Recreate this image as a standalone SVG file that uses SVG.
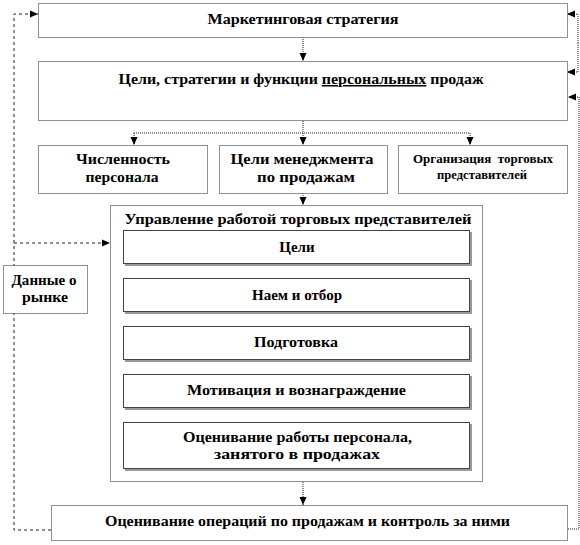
<svg xmlns="http://www.w3.org/2000/svg" width="580" height="545" viewBox="0 0 580 545">
<defs>
<style>
.ob{fill:#fff;stroke:#222;stroke-width:1;stroke-dasharray:1 1}
.sh{fill:none;stroke:#777;stroke-width:1}
.ib{fill:#fff;stroke:#444;stroke-width:1}
.ish{fill:#999}
.t{font-family:"Liberation Serif","Times New Roman",serif;font-weight:bold;font-size:15px;fill:#000;text-anchor:middle}
.ts{font-size:12.5px}
.dc{fill:none;stroke:#222;stroke-width:1;stroke-dasharray:1 1}
.dl{fill:none;stroke:#222;stroke-width:1;stroke-dasharray:3 3}
.sc{fill:none;stroke:#222;stroke-width:1}
</style>
<marker id="ah" markerUnits="userSpaceOnUse" markerWidth="8" markerHeight="8" viewBox="0 0 8 8" refX="8" refY="4" orient="auto">
<path d="M0,0.5 L8,4 L0,7.5 Z" fill="#000"/>
</marker>
</defs>
<rect width="580" height="545" fill="#fff"/>

<g id="connectors">
<path class="dc" d="M303,37 V61" marker-end="url(#ah)"/>
<path class="dc" d="M303,121 V133 M134,133 H470"/>
<path class="dc" d="M134,133 V145" marker-end="url(#ah)"/>
<path class="dc" d="M303,133 V145" marker-end="url(#ah)"/>
<path class="dc" d="M470,133 V145" marker-end="url(#ah)"/>
<path class="dc" d="M303,193 V205" marker-end="url(#ah)"/>
<path class="sc" d="M303,264 V278" marker-end="url(#ah)"/>
<path class="sc" d="M303,312 V326" marker-end="url(#ah)"/>
<path class="sc" d="M303,360 V374" marker-end="url(#ah)"/>
<path class="sc" d="M303,408 V422" marker-end="url(#ah)"/>
<path class="dc" d="M303,482 V505" marker-end="url(#ah)"/>
<path class="dl" d="M51,530 H14 V14 H38" marker-end="url(#ah)"/>
<path class="dl" d="M14,243 H110" marker-end="url(#ah)"/>
<path class="dc" d="M578,43 V14 H567" marker-end="url(#ah)"/>
<path class="dc" d="M578,43 V72 H567" marker-end="url(#ah)"/>
<path class="dc" d="M568,529 H579 V97 H568" marker-end="url(#ah)"/>
</g>

<g id="marketing">
<rect class="ob" x="38.5" y="3.5" width="529" height="34"/>
<text class="t" x="303" y="24" textLength="191" lengthAdjust="spacingAndGlyphs">Маркетинговая стратегия</text>
</g>

<g id="goals">
<rect class="ob" x="38.5" y="61.5" width="529" height="59"/>
<text class="t" x="301" y="84" textLength="365" lengthAdjust="spacingAndGlyphs">Цели, стратегии и функции <tspan text-decoration="underline">персональных</tspan> продаж</text>
</g>

<g id="headcount">
<rect class="ob" x="38.5" y="145.5" width="169" height="48"/>
<text class="t" x="123" y="164" textLength="94" lengthAdjust="spacingAndGlyphs">Численность</text>
<text class="t" x="122" y="182" textLength="73" lengthAdjust="spacingAndGlyphs">персонала</text>
</g>

<g id="mgmt-goals">
<rect class="ob" x="219.5" y="145.5" width="168" height="48"/>
<text class="t" x="302" y="164" textLength="143" lengthAdjust="spacingAndGlyphs">Цели менеджмента</text>
<text class="t" x="306" y="182" textLength="98" lengthAdjust="spacingAndGlyphs">по продажам</text>
</g>

<g id="organization">
<rect class="ob" x="398.5" y="145.5" width="169" height="48"/>
<text class="t ts" x="483" y="163" textLength="140" lengthAdjust="spacingAndGlyphs" xml:space="preserve">Организация  торговых</text>
<text class="t ts" x="482" y="179" textLength="90" lengthAdjust="spacingAndGlyphs">представителей</text>
</g>

<g id="market-data">
<rect class="ob" x="3.5" y="265.5" width="84" height="48"/>
<text class="t" x="44" y="285" textLength="65" lengthAdjust="spacingAndGlyphs">Данные о</text>
<text class="t" x="45" y="302" textLength="46" lengthAdjust="spacingAndGlyphs">рынке</text>
</g>

<g id="management">
<rect class="ob" x="110.5" y="205.5" width="372" height="276"/>
<text class="t" x="298" y="224" textLength="347" lengthAdjust="spacingAndGlyphs">Управление работой торговых представителей</text>
</g>

<g id="step-goals">
<rect class="ish" x="125" y="232" width="347" height="34"/>
<rect class="ib" x="123.5" y="230.5" width="346" height="33"/>
<text class="t" x="297" y="252">Цели</text>
</g>

<g id="step-hiring">
<rect class="ish" x="125" y="280" width="347" height="34"/>
<rect class="ib" x="123.5" y="278.5" width="346" height="33"/>
<text class="t" x="297" y="300">Наем и отбор</text>
</g>

<g id="step-training">
<rect class="ish" x="125" y="328" width="347" height="34"/>
<rect class="ib" x="123.5" y="326.5" width="346" height="33"/>
<text class="t" x="296" y="347" textLength="84" lengthAdjust="spacingAndGlyphs">Подготовка</text>
</g>

<g id="step-motivation">
<rect class="ish" x="125" y="376" width="347" height="34"/>
<rect class="ib" x="123.5" y="374.5" width="346" height="33"/>
<text class="t" x="296.5" y="395" textLength="219" lengthAdjust="spacingAndGlyphs">Мотивация и вознаграждение</text>
</g>

<g id="step-evaluation">
<rect class="ish" x="125" y="424" width="347" height="47"/>
<rect class="ib" x="123.5" y="422.5" width="346" height="46"/>
<text class="t" x="297.5" y="442" textLength="229" lengthAdjust="spacingAndGlyphs">Оценивание работы персонала,</text>
<text class="t" x="297" y="459" textLength="166" lengthAdjust="spacingAndGlyphs">занятого в продажах</text>
</g>

<g id="control">
<rect class="ob" x="51.5" y="505.5" width="516" height="35"/>
<text class="t" x="307.5" y="526" textLength="405" lengthAdjust="spacingAndGlyphs">Оценивание операций по продажам и контроль за ними</text>
</g>
</svg>
